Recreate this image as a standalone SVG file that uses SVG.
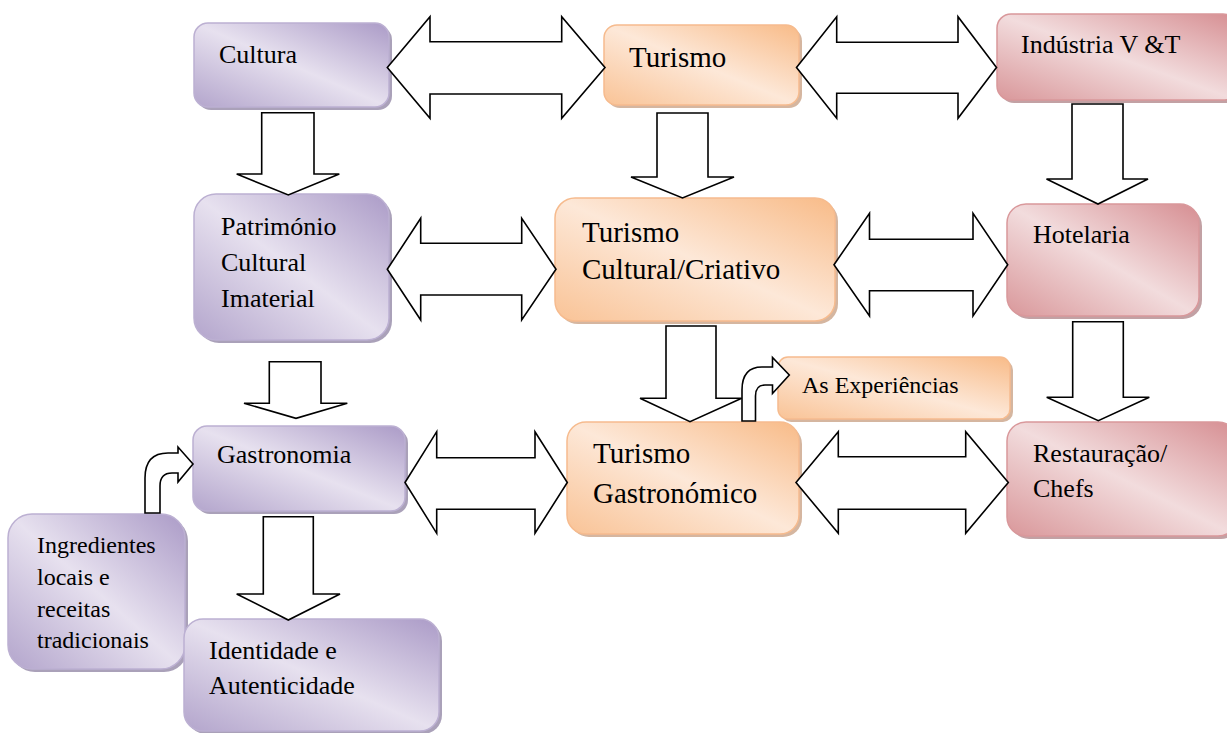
<svg xmlns="http://www.w3.org/2000/svg" width="1227" height="733" viewBox="0 0 1227 733">
<defs>
<linearGradient id="gP" x1="1" y1="0" x2="0" y2="1">
<stop offset="0" stop-color="#ab9bc7"/><stop offset="0.5" stop-color="#e7e1ef"/><stop offset="1" stop-color="#b3a5cc"/>
</linearGradient>
<linearGradient id="gO" x1="1" y1="0" x2="0" y2="1">
<stop offset="0" stop-color="#f8bb88"/><stop offset="0.5" stop-color="#fde8d8"/><stop offset="1" stop-color="#f9c396"/>
</linearGradient>
<linearGradient id="gR" x1="1" y1="0" x2="0" y2="1">
<stop offset="0" stop-color="#d68e92"/><stop offset="0.5" stop-color="#f2dcdd"/><stop offset="1" stop-color="#d9979a"/>
</linearGradient>
<style>
.arr{fill:#fff;stroke:#000;stroke-width:1.6;stroke-linejoin:miter}
.t{font-family:"Liberation Serif","Times New Roman",serif;fill:#000}
.p{fill:url(#gP);stroke:#bcb0d2;stroke-width:1.5}
.o{fill:url(#gO);stroke:#f6bb8e;stroke-width:1.5}
.r{fill:url(#gR);stroke:#d9989b;stroke-width:1.5}
.sp{fill:#8d81a2;opacity:0.75}
.so{fill:#c79e80;opacity:0.75}
.sr{fill:#ad8285;opacity:0.75}
</style>
</defs>
<rect width="1227" height="733" fill="#fff"/>

<g id="cultura">
<rect class="sp" x="197" y="26" width="195" height="84" rx="14"/>
<rect class="p" x="194" y="23" width="195" height="84" rx="14"/>
<text class="t" x="219" y="63" font-size="26">Cultura</text>
</g>
<g id="turismo">
<rect class="so" x="607" y="28" width="195" height="80" rx="13"/>
<rect class="o" x="604" y="25" width="195" height="80" rx="13"/>
<text class="t" x="629" y="67" font-size="29">Turismo</text>
</g>
<g id="industria">
<rect class="sr" x="1000" y="17" width="240" height="86" rx="14"/>
<rect class="r" x="997" y="14" width="240" height="86" rx="14"/>
<text class="t" x="1021" y="53" font-size="26">Indústria V &amp;T</text>
</g>
<g id="patrimonio">
<rect class="sp" x="197" y="197" width="195" height="146" rx="22"/>
<rect class="p" x="194" y="194" width="195" height="146" rx="22"/>
<text class="t" x="221" y="235" font-size="26">Património</text>
<text class="t" x="221" y="271" font-size="26">Cultural</text>
<text class="t" x="221" y="307" font-size="26">Imaterial</text>
</g>
<g id="turismo-cultural">
<rect class="so" x="558" y="201" width="280" height="123" rx="20"/>
<rect class="o" x="555" y="198" width="280" height="123" rx="20"/>
<text class="t" x="582" y="242" font-size="29">Turismo</text>
<text class="t" x="582" y="279" font-size="29">Cultural/Criativo</text>
</g>
<g id="hotelaria">
<rect class="sr" x="1010" y="207" width="192" height="112" rx="19"/>
<rect class="r" x="1007" y="204" width="192" height="112" rx="19"/>
<text class="t" x="1033" y="243" font-size="26">Hotelaria</text>
</g>
<g id="experiencias">
<rect class="so" x="781" y="360" width="232" height="62" rx="10"/>
<rect class="o" x="778" y="357" width="232" height="62" rx="10"/>
<text class="t" x="802" y="393" font-size="24">As Experiências</text>
</g>
<g id="gastronomia">
<rect class="sp" x="196" y="429" width="212" height="85" rx="14"/>
<rect class="p" x="193" y="426" width="212" height="85" rx="14"/>
<text class="t" x="217" y="463" font-size="26">Gastronomia</text>
</g>
<g id="turismo-gastronomico">
<rect class="so" x="570" y="425" width="232" height="112" rx="19"/>
<rect class="o" x="567" y="422" width="232" height="112" rx="19"/>
<text class="t" x="593" y="463" font-size="29">Turismo</text>
<text class="t" x="593" y="503" font-size="29">Gastronómico</text>
</g>
<g id="restauracao">
<rect class="sr" x="1010" y="425" width="230" height="114" rx="19"/>
<rect class="r" x="1007" y="422" width="230" height="114" rx="19"/>
<text class="t" x="1033" y="462" font-size="26">Restauração/</text>
<text class="t" x="1033" y="497" font-size="26">Chefs</text>
</g>
<g id="ingredientes">
<rect class="sp" x="11" y="517" width="177" height="155" rx="24"/>
<rect class="p" x="8" y="514" width="177" height="155" rx="24"/>
<text class="t" x="37" y="553" font-size="24">Ingredientes</text>
<text class="t" x="37" y="585" font-size="24">locais e</text>
<text class="t" x="37" y="617" font-size="24">receitas</text>
<text class="t" x="37" y="648" font-size="24">tradicionais</text>
</g>
<g id="identidade">
<rect class="sp" x="187" y="622" width="255" height="112" rx="19"/>
<rect class="p" x="184" y="619" width="255" height="112" rx="19"/>
<text class="t" x="209" y="659" font-size="26">Identidade e</text>
<text class="t" x="209" y="694" font-size="26">Autenticidade</text>
</g>

<g id="connectors">
<path class="arr" d="M387.3,67.5 L430,16.7 L430,41.7 L561.7,41.7 L561.7,16.7 L605,67.5 L561.7,118.3 L561.7,94 L430,94 L430,118.3 Z"/>
<path class="arr" d="M796.5,67.5 L836.7,16.7 L836.7,42.3 L958,42.3 L958,16.7 L996.5,67.5 L958,118.3 L958,93.3 L836.7,93.3 L836.7,118.3 Z"/>
<path class="arr" d="M387.3,269.2 L420.7,218.3 L420.7,243.3 L521.7,243.3 L521.7,218.3 L556,269.2 L521.7,320 L521.7,295 L420.7,295 L420.7,320 Z"/>
<path class="arr" d="M834,264.7 L869.5,213.3 L869.5,239.3 L973,239.3 L973,213.3 L1007.7,264.7 L973,316 L973,290.7 L869.5,290.7 L869.5,316 Z"/>
<path class="arr" d="M405,482.5 L436.7,431.7 L436.7,457.7 L535,457.7 L535,431.7 L567.3,482.5 L535,533.3 L535,509.3 L436.7,509.3 L436.7,533.3 Z"/>
<path class="arr" d="M796,482.5 L838.3,431.7 L838.3,456.7 L965.7,456.7 L965.7,431.7 L1008.3,482.5 L965.7,533.3 L965.7,509.3 L838.3,509.3 L838.3,533.3 Z"/>
<path class="arr" d="M261.7,112.7 L314,112.7 L314,174 L339.3,174 L288.3,195 L236.7,174 L261.7,174 Z"/>
<path class="arr" d="M269.3,361.7 L321,361.7 L321,403.3 L347.3,403.3 L296,418.3 L244,403.3 L269.3,403.3 Z"/>
<path class="arr" d="M263.3,516.7 L313.3,516.7 L313.3,594 L340,594 L288.3,620 L236.7,594 L263.3,594 Z"/>
<path class="arr" d="M657,113 L708,113 L708,177 L734,177 L682.5,198 L631,177 L657,177 Z"/>
<path class="arr" d="M666,326 L716,326 L716,398.3 L741.7,398.3 L690,421.7 L640,398.3 L666,398.3 Z"/>
<path class="arr" d="M1072,104 L1123,104 L1123,179 L1148,179 L1098,204 L1046.5,179 L1072,179 Z"/>
<path class="arr" d="M1072.7,321.7 L1123.3,321.7 L1123.3,397.3 L1149.3,397.3 L1098.3,420.7 L1046.7,397.3 L1072.7,397.3 Z"/>
<path class="arr" d="M145,513 L145,478 Q145,453 168,453 L178,453 L178,447 L193,464 L178,482 L178,473 L172,473 Q160,473 160,486 L160,513 Z"/>
<path class="arr" d="M742,421 L742,390 Q742,367 762,367 L772.5,367 L772.5,357.5 L789.3,375 L772.5,393.5 L772.5,385 L765,385 Q755.5,385 755.5,396 L755.5,421 Z"/>
</g>
</svg>
